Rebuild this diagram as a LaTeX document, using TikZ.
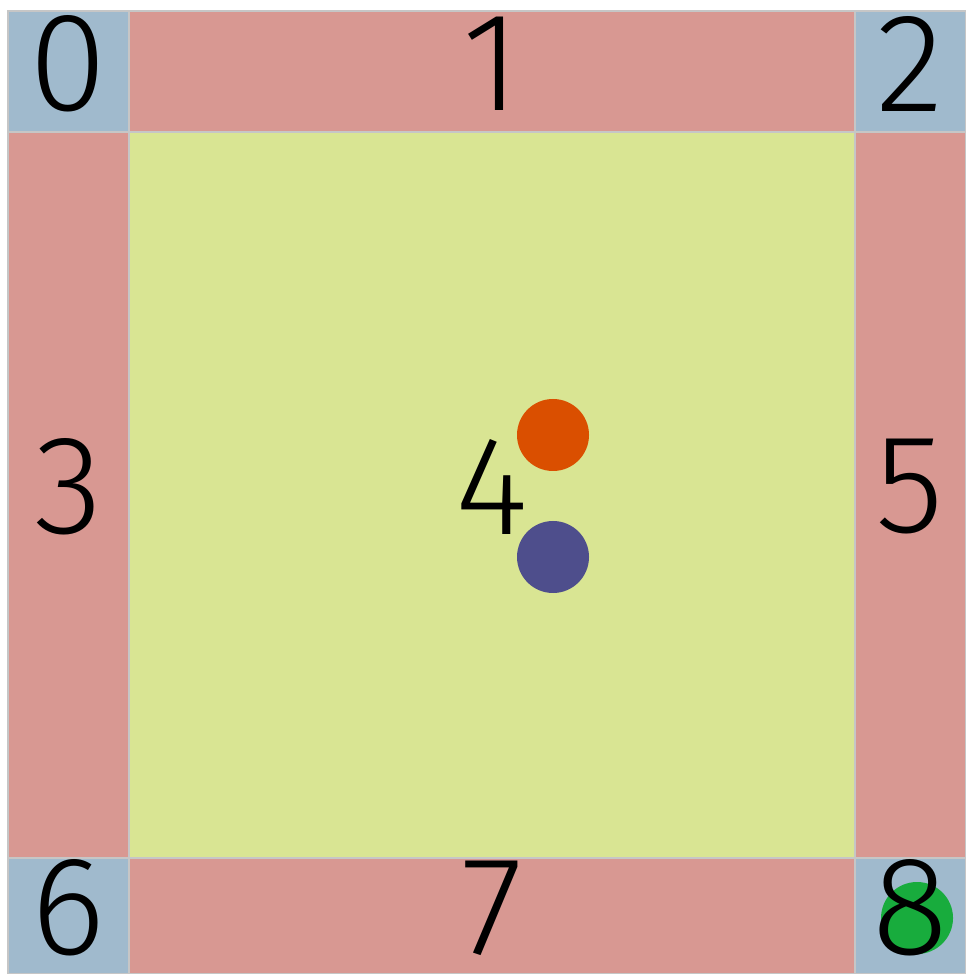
\documentclass[tikz,border=0pt]{standalone}
\usepackage{fontspec}
\setmainfont{Fira Sans}[UprightFont=* Light]
\usepackage{tikz}
\usetikzlibrary{positioning,calc}

\definecolor{cornerblue}{HTML}{A0BACD}
\definecolor{edgered}{HTML}{D89892}
\definecolor{midyellow}{HTML}{D9E593}
\definecolor{dotorange}{HTML}{DA4F00}
\definecolor{dotblue}{HTML}{4E4E8C}
\definecolor{dotgreen}{HTML}{18AC3D}

\begin{document}
\begin{tikzpicture}[
  cell/.style={rectangle, draw=gray!45, line width=0.3pt, anchor=north west, inner sep=0pt, outer sep=0pt},
  corner/.style={cell, fill=cornerblue},
  side/.style={cell, fill=edgered},
  centre/.style={cell, fill=midyellow},
  num/.style={inner sep=0pt, font=\fontsize{40}{42}\selectfont, yshift=0.08cm},
  dot/.style={circle, inner sep=0pt, minimum size=0.72cm}
]
\useasboundingbox (0,0) rectangle (9.65,-9.74);

% the 3x3 grid
\node[corner, minimum width=1.21cm, minimum height=1.21cm] (c0) at (0.08,-0.11) {};
\node[side, minimum width=7.26cm, minimum height=1.21cm] (c1) at (1.29,-0.11) {};
\node[corner, minimum width=1.10cm, minimum height=1.21cm] (c2) at (8.55,-0.11) {};
\node[side, minimum width=1.21cm, minimum height=7.26cm] (c3) at (0.08,-1.32) {};
\node[centre, minimum width=7.26cm, minimum height=7.26cm] (c4) at (1.29,-1.32) {};
\node[side, minimum width=1.10cm, minimum height=7.26cm] (c5) at (8.55,-1.32) {};
\node[corner, minimum width=1.21cm, minimum height=1.16cm] (c6) at (0.08,-8.58) {};
\node[side, minimum width=7.26cm, minimum height=1.16cm] (c7) at (1.29,-8.58) {};
\node[corner, minimum width=1.10cm, minimum height=1.16cm] (c8) at (8.55,-8.58) {};

% agents
\node[dot, fill=dotorange] (orange) at (5.53,-4.35) {};
\node[dot, fill=dotblue] (blue) at (5.53,-5.57) {};
\node[dot, fill=dotgreen] (green) at (9.17,-9.18) {};

% cell numbers
\foreach \i in {0,...,8}
  \node[num] (n\i) at (c\i.center) {\i};
\end{tikzpicture}
\end{document}
